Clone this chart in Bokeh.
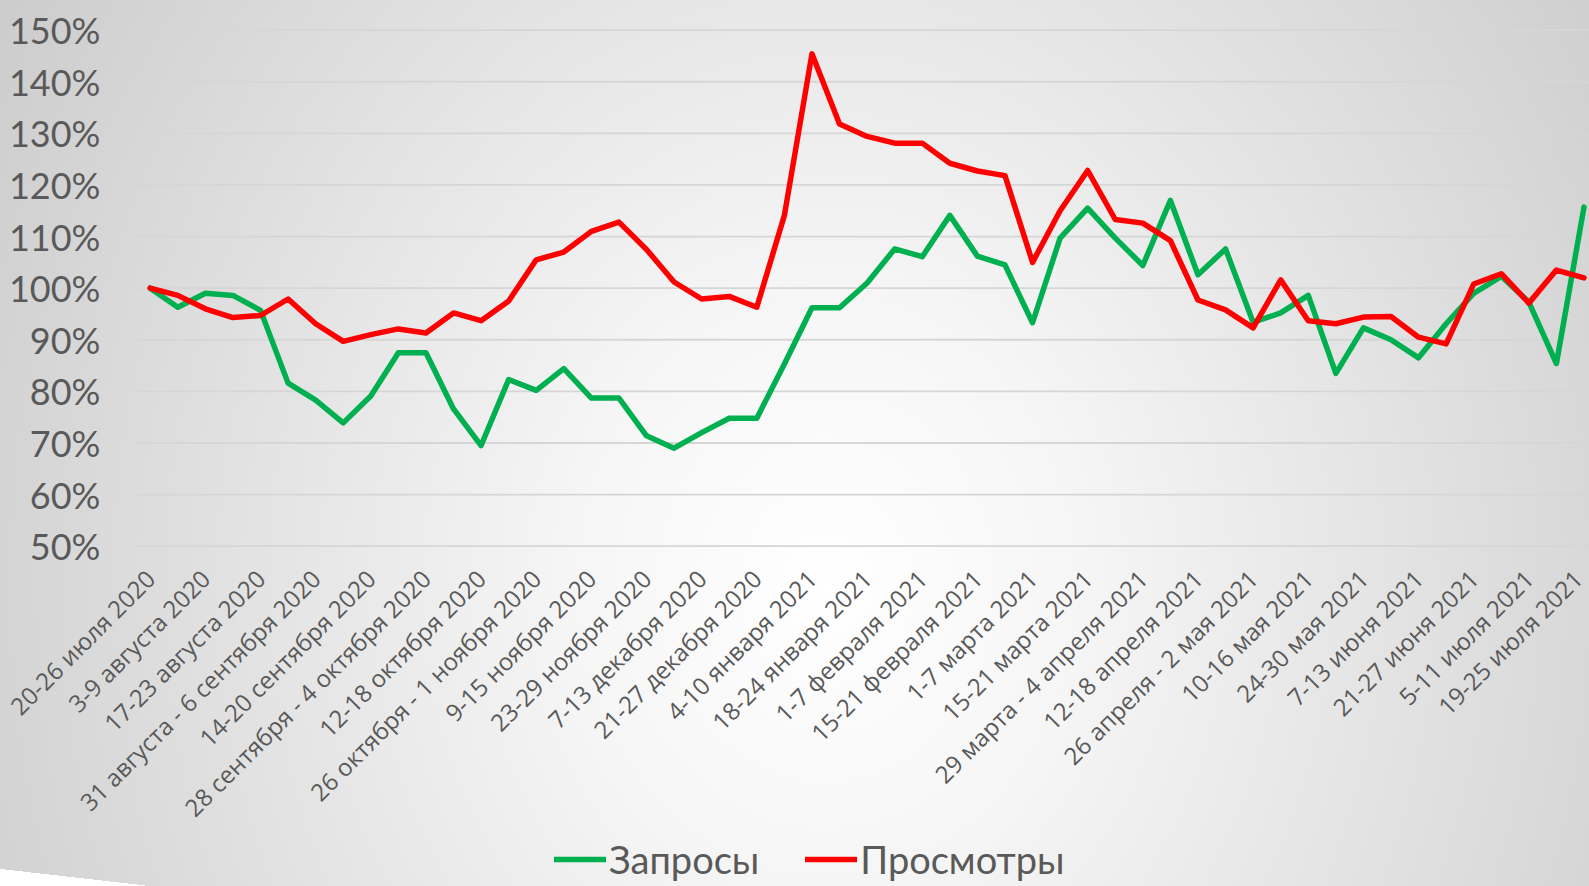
from bokeh.plotting import figure
from bokeh.models import (Range1d, FixedTicker, PrintfTickFormatter, Legend, LegendItem)
from bokeh.embed import file_html
from bokeh.resources import INLINE

# ---- data ----
week_labels = [
    "20-26 июля 2020", "3-9 августа 2020", "17-23 августа 2020",
    "31 августа - 6 сентября 2020", "14-20 сентября 2020",
    "28 сентября - 4 октября 2020", "12-18 октября 2020",
    "26 октября - 1 ноября 2020", "9-15 ноября 2020", "23-29 ноября 2020",
    "7-13 декабря 2020", "21-27 декабря 2020", "4-10 января 2021",
    "18-24 января 2021", "1-7 февраля 2021", "15-21 февраля 2021",
    "1-7 марта 2021", "15-21 марта 2021", "29 марта - 4 апреля 2021",
    "12-18 апреля 2021", "26 апреля - 2 мая 2021", "10-16 мая 2021",
    "24-30 мая 2021", "7-13 июня 2021", "21-27 июня 2021",
    "5-11 июля 2021", "19-25 июля 2021",
]

zaprosy = [
    100.0, 96.3, 99.0, 98.6, 95.7, 81.6, 78.3, 73.9, 79.1, 87.5,
    87.5, 76.6, 69.5, 82.3, 80.2, 84.4, 78.7, 78.7, 71.4, 69.0,
    72.0, 74.8, 74.8, 85.3, 96.2, 96.2, 101.0, 107.6, 106.1, 114.1,
    106.2, 104.5, 93.3, 109.7, 115.5, 109.7, 104.4, 117.0, 102.6, 107.6,
    93.4, 95.2, 98.6, 83.5, 92.3, 90.0, 86.5, 93.1, 99.0, 102.3,
    97.3, 85.4, 115.7,
]

prosmotry = [
    100.0, 98.6, 96.0, 94.3, 94.7, 97.9, 93.1, 89.7, 91.0, 92.1,
    91.3, 95.2, 93.7, 97.5, 105.5, 107.0, 111.0, 112.8, 107.5, 101.2,
    97.9, 98.4, 96.3, 114.1, 145.4, 131.8, 129.4, 128.1, 128.1, 124.2,
    122.7, 121.8, 105.0, 115.0, 122.8, 113.3, 112.6, 109.2, 97.7, 95.8,
    92.3, 101.6, 93.7, 93.1, 94.4, 94.5, 90.5, 89.2, 100.8, 102.8,
    97.1, 103.5, 102.0,
]

y_ticks = [50, 60, 70, 80, 90, 100, 110, 120, 130, 140, 150]

weeks = list(range(len(zaprosy)))
label_pos = [2 * i for i in range(len(week_labels))]

GRAY = "#595959"
X_START, X_END = -5.43, 52.2      # whole canvas is the plotting frame
Y_START, Y_END = -15.94, 155.74
PLOT_LEFT = -0.5                  # left edge of the gridded area

bg = ("linear-gradient(186.5deg, rgba(255,255,255,0) 98.4%, #ffffff 98.4%), "
      "radial-gradient(ellipse 62% 130% at 52% 66%, #ffffff 0%, #f6f6f6 25%, #cbcbcb 100%)")

p = figure(width=1589, height=886, output_backend="svg", toolbar_location=None,
           x_range=Range1d(X_START, X_END), y_range=Range1d(Y_START, Y_END),
           min_border_left=0, min_border_right=0, min_border_top=0,
           min_border_bottom=0, styles={"background": bg})

p.background_fill_alpha = 0
p.border_fill_alpha = 0
p.outline_line_color = None
p.xgrid.visible = False
p.ygrid.visible = False

# horizontal gridlines over the plotting area only
p.segment(x0=PLOT_LEFT, x1=X_END, y0=y_ticks, y1=y_ticks,
          line_color="#d6d6d6", line_width=1.8)

r1 = p.line(weeks, zaprosy, line_color="#00B050", line_width=5.5,
            line_join="round", line_cap="round")
r2 = p.line(weeks, prosmotry, line_color="#FF0000", line_width=5.5,
            line_join="round", line_cap="round")

# y axis, placed at the left edge of the gridded area
ya = p.yaxis[0]
ya.fixed_location = PLOT_LEFT
ya.ticker = FixedTicker(ticks=y_ticks)
ya.formatter = PrintfTickFormatter(format="%d%%")
ya.axis_line_color = None
ya.major_tick_line_color = None
ya.minor_tick_line_color = None
ya.major_tick_out = 0
ya.major_tick_in = 0
ya.major_label_standoff = 36
ya.major_label_text_font = "Lato"
ya.major_label_text_font_size = "36px"
ya.major_label_text_color = GRAY

# x axis: a label every other week, at the 50% line
xa = p.xaxis[0]
xa.fixed_location = y_ticks[0]
xa.ticker = FixedTicker(ticks=label_pos)
xa.major_label_overrides = {t: lab for t, lab in zip(label_pos, week_labels)}
xa.major_label_orientation = 0.785398
xa.axis_line_color = None
xa.major_tick_line_color = None
xa.minor_tick_line_color = None
xa.major_tick_out = 0
xa.major_tick_in = 0
xa.major_label_standoff = 28
xa.major_label_text_font = "Open Sans"
xa.major_label_text_font_size = "24px"
xa.major_label_text_color = GRAY

legend = Legend(items=[LegendItem(label="Запросы", renderers=[r1]),
                       LegendItem(label="Просмотры", renderers=[r2])],
                orientation="horizontal", location=(554, 4),
                glyph_width=52, glyph_height=20, label_standoff=3, spacing=46,
                padding=0, margin=0, border_line_color=None,
                background_fill_alpha=0,
                label_text_font="Lato", label_text_font_size="38px",
                label_text_color=GRAY)
p.add_layout(legend, "center")

open("out.html", "w").write(file_html(p, INLINE))
